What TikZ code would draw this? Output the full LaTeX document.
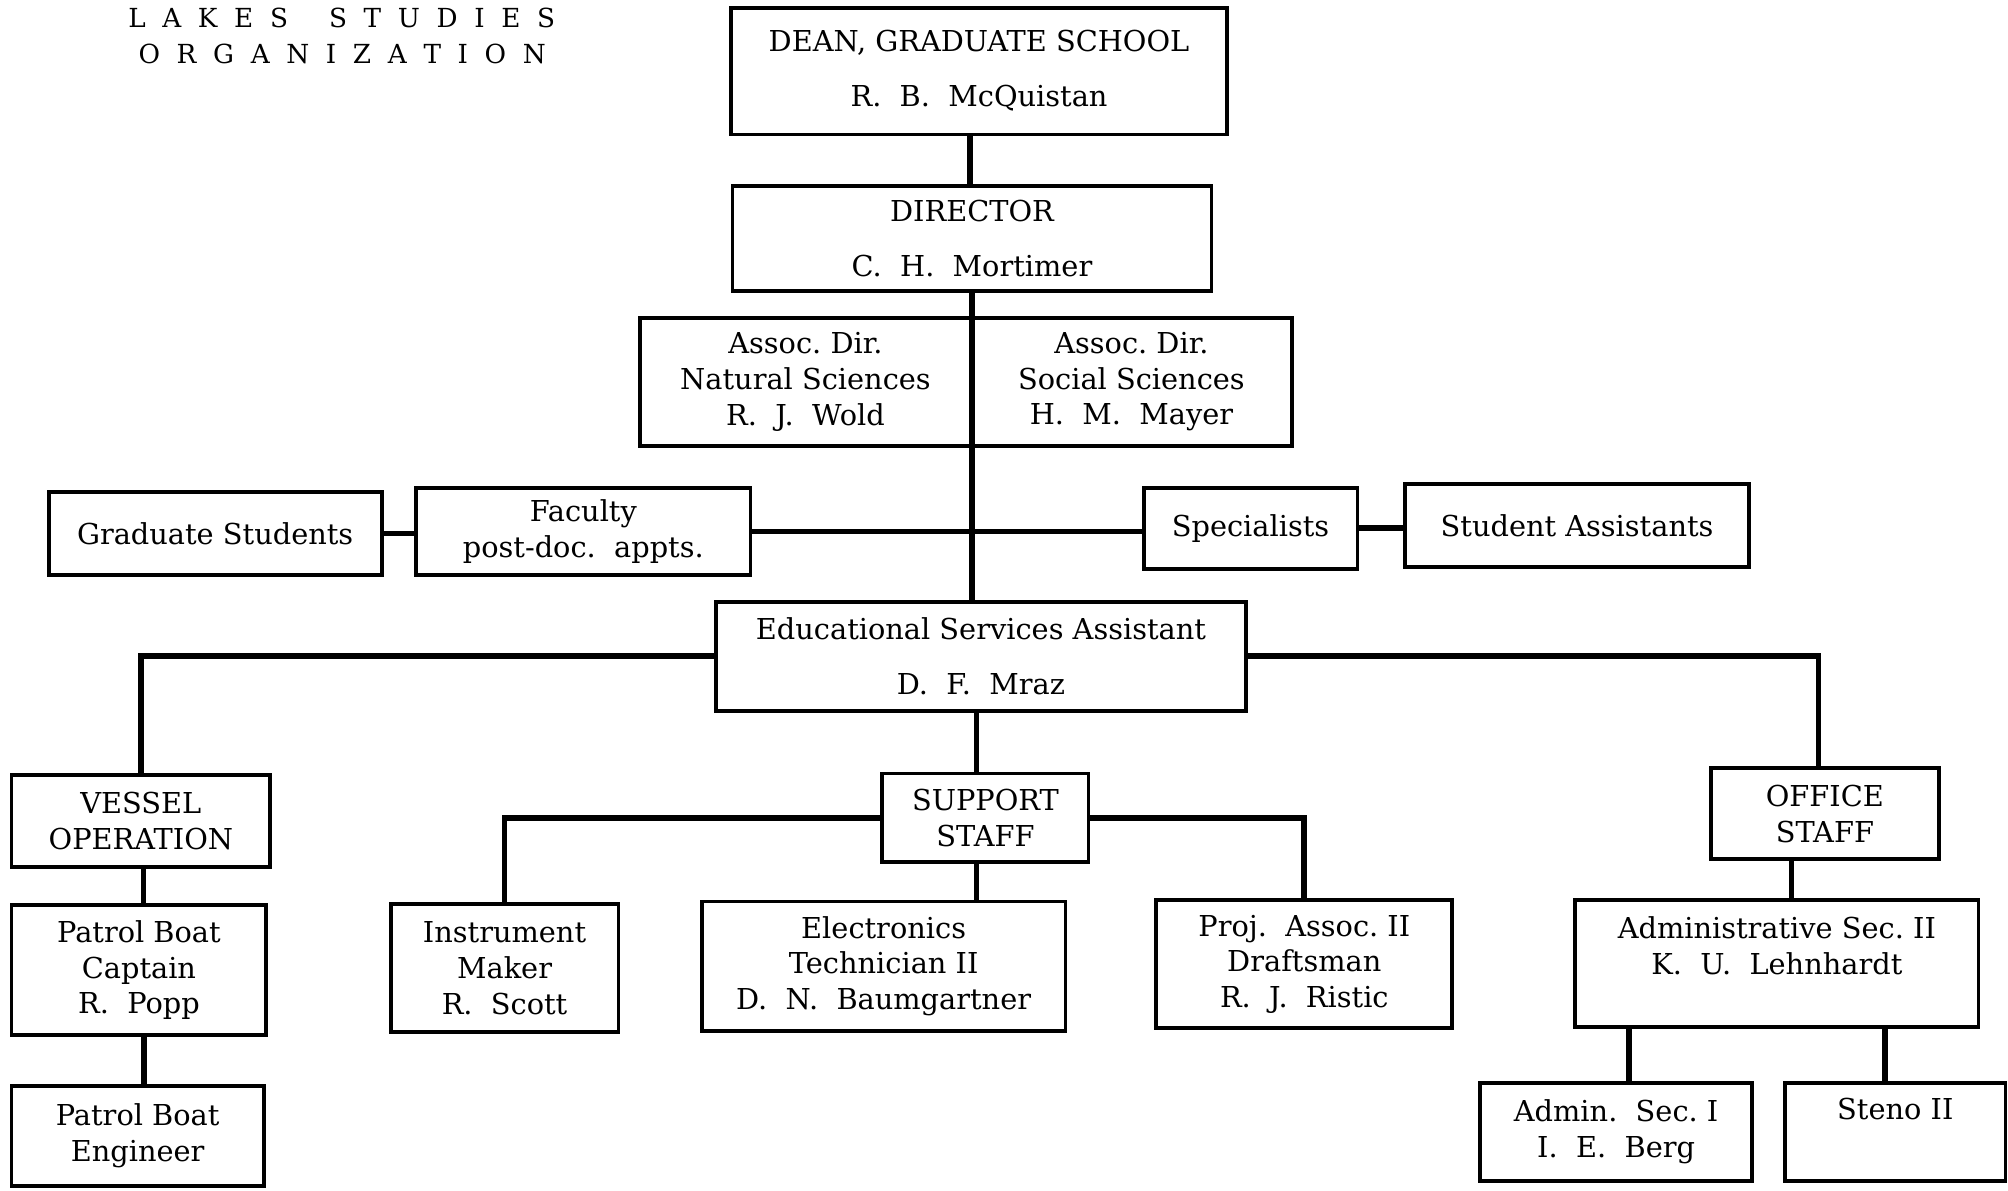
\documentclass[tikz,border=0pt]{standalone}
\usepackage{fontspec}
\setmainfont{DejaVu Serif}
\newcommand{\boxfont}{\fontsize{22.5}{28}\selectfont}
\newcommand{\tg}{\hspace{13pt}}
\newcommand{\tw}{\hspace{32pt}}
\begin{document}
\begin{tikzpicture}[x=1pt,y=-1pt,
  box/.style={draw, line width=3pt, rectangle, align=center, inner sep=0pt, font=\boxfont},
  conn/.style={line width=4.5pt, line cap=rect},
  ttl/.style={anchor=west, inner sep=0pt, font=\fontsize{20.5}{24}\selectfont}]
\fill[white] (0,0) rectangle (1568,930);
\useasboundingbox (0,0) rectangle (1568,930);

% title
\node[ttl] (t1) at (100,14) {L\tg A\tg K\tg E\tg S\tw S\tg T\tg U\tg D\tg I\tg E\tg S};
\node[ttl] (t2) at (108,42) {O\tg R\tg G\tg A\tg N\tg I\tg Z\tg A\tg T\tg I\tg O\tg N};

% boxes
\node[box, minimum width=387pt, minimum height=99pt] (dean) at (764.5,55.5) {DEAN, GRADUATE SCHOOL\\[15pt]R.\ \ B.\ \ McQuistan};
\node[box, minimum width=374pt, minimum height=82pt] (dir) at (759,186) {DIRECTOR\\[15pt]C.\ \ H.\ \ Mortimer};
\node[box, minimum width=258pt, minimum height=100pt] (assocn) at (629,298) {Assoc.\ Dir.\\Natural Sciences\\R.\ \ J.\ \ Wold};
\node[box, minimum width=251pt, minimum height=100pt] (assocs) at (883.5,298) {Assoc.\ Dir.\\Social Sciences\\H.\ \ M.\ \ Mayer};
\node[box, minimum width=260pt, minimum height=65pt] (grad) at (168,416.5) {Graduate Students};
\node[box, minimum width=261pt, minimum height=68pt] (fac) at (455.5,415) {Faculty\\post-doc.\ \ appts.};
\node[box, minimum width=167pt, minimum height=63pt] (spec) at (976.5,412.5) {Specialists};
\node[box, minimum width=269pt, minimum height=65pt] (stud) at (1231.5,410.5) {Student Assistants};
\node[box, minimum width=414pt, minimum height=85pt] (esa) at (766,512.5) {Educational Services Assistant\\[15pt]D.\ \ F.\ \ Mraz};
\node[box, minimum width=202pt, minimum height=72pt] (vessel) at (110,641) {VESSEL\\OPERATION};
\node[box, minimum width=199pt, minimum height=101pt] (capt) at (108.5,757.5) {Patrol Boat\\Captain\\R.\ \ Popp};
\node[box, minimum width=197pt, minimum height=78pt] (eng) at (107.5,887) {Patrol Boat\\Engineer};
\node[box, minimum width=161pt, minimum height=69pt] (supp) at (769.5,638.5) {SUPPORT\\STAFF};
\node[box, minimum width=178pt, minimum height=100pt] (instr) at (394,756) {Instrument\\Maker\\R.\ \ Scott};
\node[box, minimum width=284pt, minimum height=101pt] (elec) at (690,754.5) {Electronics\\Technician II\\D.\ \ N.\ \ Baumgartner};
\node[box, minimum width=231pt, minimum height=100pt] (proj) at (1018.5,753) {Proj.\ \ Assoc.\ II\\Draftsman\\R.\ \ J.\ \ Ristic};
\node[box, minimum width=178pt, minimum height=71pt] (office) at (1425,635.5) {OFFICE\\STAFF};
\node[box, minimum width=315pt, minimum height=99pt] (adm2) at (1387.5,752.5) {Administrative Sec.\ II\\K.\ \ U.\ \ Lehnhardt\\\mbox{}};
\node[box, minimum width=212pt, minimum height=76pt] (adm1) at (1262,884) {Admin.\ \ Sec.\ I\\I.\ \ E.\ \ Berg};
\node[box, minimum width=172pt, minimum height=76pt] (steno) at (1480,884) {Steno II\\[8pt]\mbox{}};

% connectors
\draw[conn] ([xshift=-7pt]dean.south) -- ([xshift=-7pt]dean.south |- dir.north);
\draw[conn] (dir.south) -- (dir.south |- esa.north);
\draw[conn] (grad.east) -- (grad.east -| fac.west);
\draw[conn] (fac.east) -- (fac.east -| spec.west);
\draw[conn] (spec.east) -- (spec.east -| stud.west);
\draw[conn] (esa.west) -| (vessel.north);
\draw[conn] (esa.east) -| ([xshift=-5pt]office.north);
\draw[conn] ([xshift=-7pt]supp.north) -- ([xshift=-7pt]supp.north |- esa.south);
\draw[conn] (supp.west) -| (instr.north);
\draw[conn] (supp.east) -| (proj.north);
\draw[conn] ([xshift=-7pt]supp.south) -- ([xshift=-7pt]supp.south |- elec.north);
\draw[conn] ([xshift=2pt]vessel.south) -- ([xshift=2pt]vessel.south |- capt.north);
\draw[conn] ([xshift=4pt]capt.south) -- ([xshift=4pt]capt.south |- eng.north);
\draw[conn] ([xshift=-26pt]office.south) -- ([xshift=-26pt]office.south |- adm2.north);
\draw[conn] ([xshift=10pt]adm1.north) -- ([xshift=10pt]adm1.north |- adm2.south);
\draw[conn] ([xshift=-8pt]steno.north) -- ([xshift=-8pt]steno.north |- adm2.south);
\end{tikzpicture}
\end{document}
